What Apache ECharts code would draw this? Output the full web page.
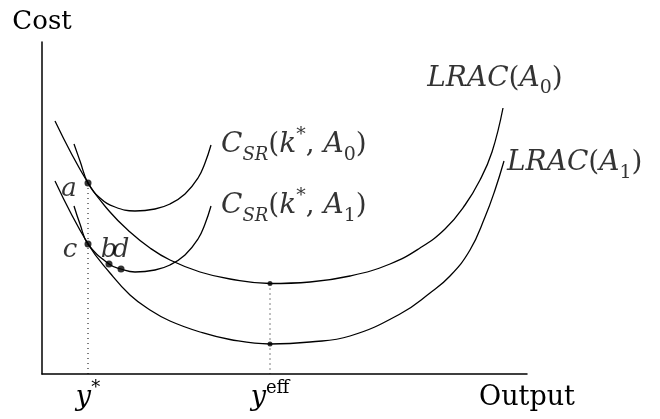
<!DOCTYPE html>
<html><head><meta charset="utf-8">
<script src="https://cdn.jsdelivr.net/npm/echarts@6/dist/echarts.min.js"></script>
<style>html,body{margin:0;padding:0;background:#fff}#c{width:660px;height:419px}</style>
</head><body><div id="c"></div>
<script>
// Data units: output (x) and cost (y)
const lracA0 = [[13,253],[46,191],[68,162],[88,142],[108,126],[128,114],[158,102],[188,95],[228,90.5],[268,92],[308,98],[348,110],[378,126],[403,145],[423,169],[438,194],[450,222],[461,266]];
const lracA1 = [[13,193],[46,130],[68,101],[88,79],[108,64],[128,53],[158,42],[188,34.5],[228,30],[268,32],[308,38],[358,60],[388,81],[408,98],[428,124],[443,157],[453,184],[462,213]];
const csrA0 = [[32,230],[38,213],[46,191],[58,176],[73,167],[93,163],[113,165],[128,170],[143,180],[156,196],[163,211],[169,229]];
const csrA1 = [[32,168],[38,150],[46,130],[67,110],[79,105],[93,102],[113,104],[128,109],[143,119],[156,135],[163,150],[169,168]];
const yStar = 46;
const yEff = 228;
const pointNames = ['a','c','b','d'];
const pointValues = [[46,191],[46,130],[67,110],[79,105]];
const effPoints = [[228,90.5],[228,30]];
const tickValues = [46, 228, 485];
const tickLabels = ['y^*', 'y^eff', 'Output'];
const curveNames = ['LRAC(A_0)', 'LRAC(A_1)', 'C_SR(k^*, A_0)', 'C_SR(k^*, A_1)'];
const xMax = 485, yMax = 332;

const SERIF = "'DejaVu Serif', serif";
const FS = 26;
function mkRich(fs, sfs) {
  const lh = Math.round(fs * 1.4);
  return {
    i: {fontFamily: SERIF, fontStyle: 'italic', fontSize: fs, color: '#000', lineHeight: lh},
    n: {fontFamily: SERIF, fontSize: fs, color: '#000', lineHeight: lh},
    sub: {fontFamily: SERIF, fontSize: sfs, color: '#000', verticalAlign: 'bottom', lineHeight: lh},
    subi: {fontFamily: SERIF, fontStyle: 'italic', fontSize: sfs - 1, color: '#000', verticalAlign: 'bottom', lineHeight: lh},
    sup: {fontFamily: SERIF, fontSize: sfs, color: '#000', verticalAlign: 'top', lineHeight: lh},
    supi: {fontFamily: SERIF, fontStyle: 'italic', fontSize: sfs, color: '#000', verticalAlign: 'top', lineHeight: lh}
  };
}
const richCurve = mkRich(28, 19);
const richPoint = mkRich(26, 18);
const richAxis = mkRich(27, 18);
// convert simple TeX-ish text to rich string
function toRich(s, upright) {
  let out = '';
  let i = 0;
  while (i < s.length) {
    const ch = s[i];
    if (ch === '_' || ch === '^') {
      const kind = ch === '_' ? 'sub' : 'sup';
      let j = i + 1, tok = '';
      while (j < s.length && /[A-Za-z0-9*]/.test(s[j])) { tok += s[j]; j++; if (/[0-9*]/.test(tok)) break; }
      const isLetters = /^[A-Za-z]+$/.test(tok) && tok !== 'eff';
      out += '{' + (isLetters ? kind + 'i' : kind) + '|' + tok + '}';
      i = j;
    } else if (/[A-Za-z]/.test(ch) && !upright) {
      out += '{i|' + ch + '}'; i++;
    } else {
      out += '{n|' + ch + '}'; i++;
    }
  }
  return out;
}

const lineStyle = {color: '#000', width: 1.3};
function curve(data) {
  return {type: 'line', data: data, smooth: 0.45, showSymbol: false, lineStyle: lineStyle, silent: true, z: 3};
}
const curveEnds = [lracA0, lracA1, csrA0, csrA1].map(a => a[a.length - 1]);
const labelPlacement = [
  {position: 'top', distance: 10, offset: [-8, 0]},
  {position: 'right', distance: 3, offset: [0, 2]},
  {position: 'right', distance: 10, offset: [0, 0]},
  {position: 'right', distance: 10, offset: [0, 0]}
];
const pointLabelOffsets = [[-19, 6], [-18, 6], [0, -14], [0, -19]];

const option = {
  animation: false,
  grid: {left: 42, right: 133, top: 42, bottom: 45},
  xAxis: {
    type: 'value', min: 0, max: xMax,
    axisLine: {show: true, lineStyle: {color: '#000', width: 1.5}},
    axisTick: {show: false}, splitLine: {show: false},
    axisLabel: {
      show: true, customValues: tickValues, margin: 5, color: '#000',
      formatter: v => { const k = tickValues.indexOf(v); return toRich(tickLabels[k], tickLabels[k] === 'Output'); },
      rich: richAxis
    }
  },
  yAxis: {
    type: 'value', min: 0, max: yMax,
    axisLine: {show: true, lineStyle: {color: '#000', width: 1.5}},
    axisTick: {show: false}, splitLine: {show: false}, axisLabel: {show: false},
    name: 'Cost', nameLocation: 'end', nameGap: 7,
    nameTextStyle: {fontFamily: SERIF, fontSize: FS, color: '#000', align: 'center'}
  },
  series: [
    curve(lracA0), curve(lracA1), curve(csrA0), curve(csrA1),
    {type: 'line', data: [pointValues[0], [yStar, 0]], showSymbol: false, silent: true,
     lineStyle: {color: '#000', width: 1, type: [1, 4]}, z: 2},
    {type: 'line', data: [effPoints[0], [yEff, 0]], showSymbol: false, silent: true,
     lineStyle: {color: '#000', width: 1, type: [1, 4]}, z: 2},
    {type: 'scatter', symbolSize: 7, itemStyle: {color: '#000'}, z: 5, silent: true,
     data: pointValues.map((v, k) => ({value: v, label: {show: true, position: 'inside', offset: pointLabelOffsets[k], color: '#000',
       formatter: toRich(pointNames[k]), rich: richPoint}}))},
    {type: 'scatter', symbolSize: 5, itemStyle: {color: '#000'}, z: 5, silent: true, data: effPoints},
    {type: 'scatter', symbolSize: 0, silent: true, z: 6,
     data: curveEnds.map((v, k) => ({value: v, label: Object.assign({show: true, color: '#000', formatter: toRich(curveNames[k]), rich: richCurve}, labelPlacement[k])}))}
  ]
};
const chart = echarts.init(document.getElementById('c'), null, {renderer: 'canvas'});
chart.setOption(option);
</script>
</body></html>
